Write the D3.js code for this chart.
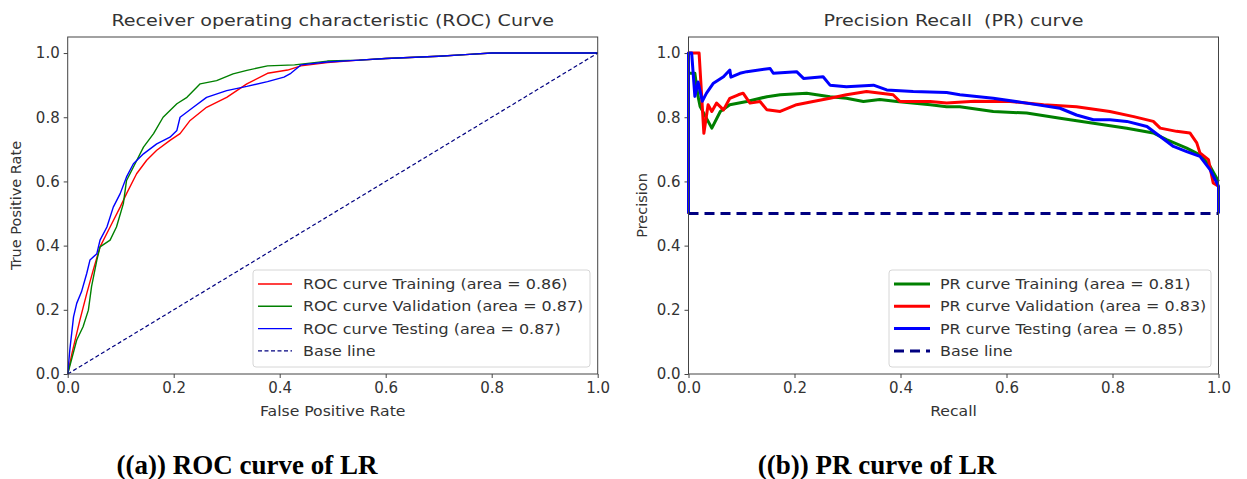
<!DOCTYPE html>
<html>
<head>
  <meta charset="UTF-8">
  <style>
    body { margin: 0; background: #fff; }
    text { font-family: "DejaVu Sans", sans-serif; fill: #333; }
    .caption { font-family: "Liberation Serif", serif; font-weight: bold; fill: #000; }
  </style>
  <script src="https://d3js.org/d3.v7.min.js"></script>
</head>
<body>
<svg id="chart"></svg>
<script>
// ROC points [fpr, tpr]
const rocTraining = [[0,0],[0.008,0.064],[0.023,0.168],[0.036,0.251],[0.048,0.323],[0.061,0.396],[0.08,0.458],[0.099,0.52],[0.111,0.562],[0.13,0.624],[0.149,0.666],[0.168,0.697],[0.193,0.728],[0.212,0.749],[0.231,0.79],[0.262,0.831],[0.30,0.862],[0.338,0.904],[0.377,0.937],[0.415,0.947],[0.44,0.96],[0.49,0.97],[0.55,0.978],[0.6,0.983],[0.7,0.99],[0.75,0.995],[0.8,1],[1,1]];
const rocValidation = [[0,0],[0.017,0.106],[0.029,0.147],[0.039,0.199],[0.045,0.272],[0.055,0.355],[0.061,0.396],[0.08,0.417],[0.092,0.458],[0.105,0.531],[0.111,0.603],[0.124,0.645],[0.143,0.707],[0.162,0.749],[0.18,0.80],[0.206,0.842],[0.225,0.862],[0.25,0.904],[0.281,0.914],[0.312,0.935],[0.338,0.946],[0.377,0.96],[0.428,0.963],[0.49,0.975],[0.55,0.978],[0.6,0.983],[0.7,0.99],[0.75,0.995],[0.8,1],[1,1]];
const rocTesting = [[0,0],[0.004,0.075],[0.011,0.178],[0.017,0.22],[0.026,0.256],[0.036,0.314],[0.042,0.355],[0.055,0.375],[0.061,0.417],[0.074,0.458],[0.086,0.52],[0.099,0.562],[0.111,0.614],[0.124,0.655],[0.143,0.686],[0.168,0.717],[0.193,0.738],[0.206,0.759],[0.212,0.80],[0.237,0.831],[0.262,0.862],[0.30,0.883],[0.338,0.896],[0.377,0.911],[0.408,0.925],[0.421,0.937],[0.44,0.963],[0.49,0.972],[0.55,0.978],[0.6,0.983],[0.7,0.99],[0.75,0.995],[0.8,1],[1,1]];
const rocBase = [[0,0],[1,1]];

// PR points [recall, precision]
const prTraining = [[0,0.5],[0,0.937],[0.012,0.937],[0.018,0.865],[0.022,0.833],[0.044,0.766],[0.06,0.818],[0.078,0.839],[0.11,0.849],[0.148,0.864],[0.173,0.87],[0.223,0.875],[0.267,0.864],[0.298,0.859],[0.33,0.849],[0.361,0.855],[0.393,0.849],[0.456,0.839],[0.487,0.833],[0.512,0.833],[0.575,0.818],[0.638,0.813],[0.701,0.797],[0.764,0.781],[0.827,0.766],[0.877,0.751],[0.902,0.73],[0.94,0.704],[0.965,0.683],[0.984,0.647],[1,0.6]];
const prValidation = [[0,0.5],[0,1],[0.02,1],[0.029,0.75],[0.037,0.839],[0.044,0.818],[0.053,0.844],[0.066,0.823],[0.078,0.859],[0.094,0.87],[0.103,0.875],[0.116,0.844],[0.135,0.849],[0.148,0.823],[0.173,0.818],[0.204,0.839],[0.235,0.849],[0.267,0.859],[0.298,0.87],[0.336,0.88],[0.386,0.87],[0.399,0.849],[0.456,0.849],[0.487,0.844],[0.54,0.85],[0.607,0.849],[0.67,0.839],[0.732,0.833],[0.795,0.818],[0.84,0.802],[0.877,0.787],[0.89,0.766],[0.921,0.756],[0.946,0.751],[0.959,0.72],[0.965,0.689],[0.981,0.668],[0.99,0.595],[1,0.585]];
const prTesting = [[0,0.5],[0,1],[0.006,1],[0.012,0.865],[0.018,0.91],[0.026,0.85],[0.034,0.875],[0.047,0.906],[0.066,0.926],[0.078,0.947],[0.08,0.925],[0.097,0.937],[0.11,0.942],[0.154,0.952],[0.16,0.937],[0.204,0.942],[0.217,0.921],[0.254,0.926],[0.267,0.90],[0.298,0.895],[0.349,0.90],[0.374,0.885],[0.424,0.88],[0.487,0.877],[0.512,0.87],[0.575,0.859],[0.638,0.844],[0.701,0.828],[0.732,0.807],[0.764,0.792],[0.795,0.792],[0.827,0.787],[0.865,0.771],[0.89,0.74],[0.915,0.709],[0.94,0.693],[0.965,0.678],[0.984,0.637],[1,0.585],[1,0.5]];
const prBase = [[0,0.5],[1,0.5]];

const axisTicks = [0, 0.2, 0.4, 0.6, 0.8, 1.0];
const rocNames = ["ROC curve Training (area = 0.86)", "ROC curve Validation (area = 0.87)", "ROC curve Testing (area = 0.87)", "Base line"];
const prNames = ["PR curve Training (area = 0.81)", "PR curve Validation (area = 0.83)", "PR curve Testing (area = 0.85)", "Base line"];

const width = 1247, height = 479;
const stretch = 1.16; // the source figure is a bit wider than tall
const legendStretch = 1.1;
const svg = d3.select("#chart").attr("width", width).attr("height", height);
svg.append("rect").attr("width", width).attr("height", height).attr("fill", "#fff");

function panel(cfg) {
  const x = d3.scaleLinear().domain([0, 1]).range([cfg.left, cfg.right]);
  const y = d3.scaleLinear().domain([0, 1.05]).range([cfg.bottom, cfg.top]);
  const g = svg.append("g");

  const xAxis = g.append("g").attr("transform", "translate(0," + cfg.bottom + ")")
    .call(d3.axisBottom(x).tickValues(axisTicks).tickFormat(d3.format(".1f")).tickSize(4).tickPadding(4));
  const yAxis = g.append("g").attr("transform", "translate(" + cfg.left + ",0)")
    .call(d3.axisLeft(y).tickValues(axisTicks).tickFormat(d3.format(".1f")).tickSize(4).tickPadding(4));
  [xAxis, yAxis].forEach(a => {
    a.select(".domain").remove();
    a.selectAll("line").attr("stroke", "#444");
    a.selectAll("text").style("font-size", "15px").style("font-family", "DejaVu Sans").attr("fill", "#333");
  });

  const line = d3.line().x(d => x(d[0])).y(d => y(d[1]));
  cfg.series.forEach(s => {
    g.append("path").datum(s.data)
      .attr("fill", "none")
      .attr("stroke", s.color)
      .attr("stroke-width", s.width)
      .attr("stroke-dasharray", s.dash || null)
      .attr("stroke-linejoin", "round")
      .attr("d", line);
  });

  g.append("rect")
    .attr("x", cfg.left).attr("y", cfg.top)
    .attr("width", cfg.right - cfg.left).attr("height", cfg.bottom - cfg.top)
    .attr("fill", "none").attr("stroke", "#444").attr("stroke-width", 1);

  const cx = (cfg.left + cfg.right) / 2;
  g.append("text").attr("transform", "translate(" + cx + ",26) scale(" + stretch + ",1)")
    .attr("text-anchor", "middle")
    .style("font-size", "16.5px").style("white-space", "pre").text(cfg.title);
  g.append("text").attr("transform", "translate(" + cx + ",416) scale(1.08,1)")
    .attr("text-anchor", "middle")
    .style("font-size", "14.5px").text(cfg.xLabel);
  g.append("text").attr("transform", "translate(" + cfg.yLabelX + "," + ((cfg.top + cfg.bottom) / 2) + ") rotate(-90)")
    .attr("text-anchor", "middle").style("font-size", "14.5px").text(cfg.yLabel);

  // legend
  const lg = cfg.legend;
  g.append("rect").attr("x", lg.x).attr("y", lg.y).attr("width", lg.w).attr("height", lg.h)
    .attr("rx", 3).attr("fill", "#fff").attr("fill-opacity", 0.85)
    .attr("stroke", "#d6d6d6").attr("stroke-width", 1);
  cfg.legendOrder.forEach((s, i) => {
    const ly = lg.y + 14 + i * 22.3;
    g.append("line").attr("x1", lg.x + 5).attr("x2", lg.x + 5 + lg.sample)
      .attr("y1", ly).attr("y2", ly)
      .attr("stroke", s.color).attr("stroke-width", s.width)
      .attr("stroke-dasharray", s.dash || null);
    g.append("text").attr("transform", "translate(" + (lg.x + lg.textX) + "," + (ly + 5) + ") scale(" + legendStretch + ",1)")
      .style("font-size", "14.5px").text(cfg.names[i]);
  });
}

const rocTrain = {data: rocTraining, color: "#ff0000", width: 1.4};
const rocVal = {data: rocValidation, color: "#008000", width: 1.4};
const rocTest = {data: rocTesting, color: "#0000ff", width: 1.4};
const rocB = {data: rocBase, color: "#000080", width: 1.2, dash: "4,2.5"};

panel({
  left: 67.7, right: 597.7, top: 37, bottom: 374,
  title: "Receiver operating characteristic (ROC) Curve",
  xLabel: "False Positive Rate", yLabel: "True Positive Rate", yLabelX: 21,
  series: [rocTrain, rocVal, rocTest, rocB],
  legendOrder: [rocTrain, rocVal, rocTest, rocB],
  names: rocNames,
  legend: {x: 253, y: 270, w: 337, h: 97, sample: 34, textX: 50}
});

const prTrain = {data: prTraining, color: "#008000", width: 3};
const prVal = {data: prValidation, color: "#ff0000", width: 3};
const prTest = {data: prTesting, color: "#0000ff", width: 3};
const prB = {data: prBase, color: "#000080", width: 3, dash: "10,6"};

panel({
  left: 688.5, right: 1218.5, top: 37, bottom: 374,
  title: "Precision Recall  (PR) curve",
  xLabel: "Recall", yLabel: "Precision", yLabelX: 647,
  series: [prTrain, prVal, prTest, prB],
  legendOrder: [prTrain, prVal, prTest, prB],
  names: prNames,
  legend: {x: 889, y: 270, w: 322, h: 97, sample: 36, textX: 51}
});

svg.append("text").attr("class", "caption").attr("x", 247).attr("y", 474)
  .attr("text-anchor", "middle").style("font-size", "27px").text("((a)) ROC curve of LR");
svg.append("text").attr("class", "caption").attr("x", 877).attr("y", 474)
  .attr("text-anchor", "middle").style("font-size", "27px").text("((b)) PR curve of LR");
</script>
</body>
</html>
